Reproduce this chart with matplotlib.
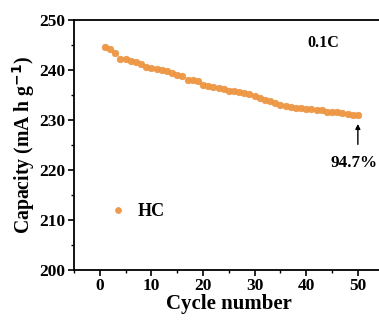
import matplotlib
matplotlib.use("Agg")
import matplotlib.pyplot as plt
from matplotlib.ticker import MultipleLocator

plt.rcParams['font.family'] = ['Liberation Serif', 'DejaVu Serif']
plt.rcParams['font.weight'] = 'bold'

cycles = list(range(1, 51))
capacity = [244.7, 244.3, 243.4, 242.3, 242.2, 241.8, 241.7, 241.2, 240.7, 240.5,
            240.3, 240.0, 239.9, 239.5, 239.1, 238.8, 238.1, 238.1, 237.8, 237.1,
            236.9, 236.6, 236.5, 236.3, 235.9, 235.8, 235.7, 235.4, 235.2, 234.8,
            234.5, 234.1, 233.9, 233.5, 233.0, 232.9, 232.7, 232.5, 232.4, 232.3,
            232.3, 232.1, 232.0, 231.7, 231.7, 231.6, 231.5, 231.3, 231.1, 231.1]
series_label = "HC"
rate_label = "0.1C"
retention_label = "94.7%"
xticks = [0, 10, 20, 30, 40, 50]
yticks = [200, 210, 220, 230, 240, 250]

fig = plt.figure(figsize=(3.79, 3.22), dpi=100)
ax = fig.add_axes([0.1953, 0.1615, 0.817, 0.7755])

ax.plot(cycles, capacity, 'o', color='#EF9A48', markersize=4.8,
        markeredgecolor='#E8913E', markeredgewidth=0.4, label=series_label)

ax.set_xlim(-5, 55)
ax.set_ylim(200, 250)
ax.set_xticks(xticks)
ax.set_yticks(yticks)
ax.xaxis.set_minor_locator(MultipleLocator(5))
ax.yaxis.set_minor_locator(MultipleLocator(5))
ax.tick_params(which='major', direction='out', length=4, width=1.2, labelsize=12.5, pad=2)
ax.tick_params(which='minor', direction='out', length=2.5, width=1.0)
for s in ax.spines.values():
    s.set_linewidth(1.3)
for lbl in ax.get_xticklabels() + ax.get_yticklabels():
    lbl.set_fontweight('bold')

ax.set_xlabel("Cycle number", fontsize=15, fontweight='bold', labelpad=0)
ax.set_ylabel("Capacity (mA h g$^{\\mathbf{-1}}$)", fontsize=14.2, fontweight='bold', labelpad=2)

ax.text(43.3, 245.5, rate_label, fontsize=11.5, fontweight='bold', ha='center', va='center')
ax.annotate("", xy=(cycles[-1], 229.8), xytext=(cycles[-1], 224.6),
            arrowprops=dict(arrowstyle='-|>', color='black', lw=1.0, mutation_scale=7))
ax.text(cycles[-1] - 0.8, 221.4, retention_label, fontsize=12.3, fontweight='bold', ha='center', va='center')

leg = ax.legend(loc='lower left', bbox_to_anchor=(0.03, 0.135), frameon=False,
                prop={'size': 13, 'weight': 'bold'}, handletextpad=0.1, markerscale=0.9)

fig.savefig("out.png", dpi=100)
